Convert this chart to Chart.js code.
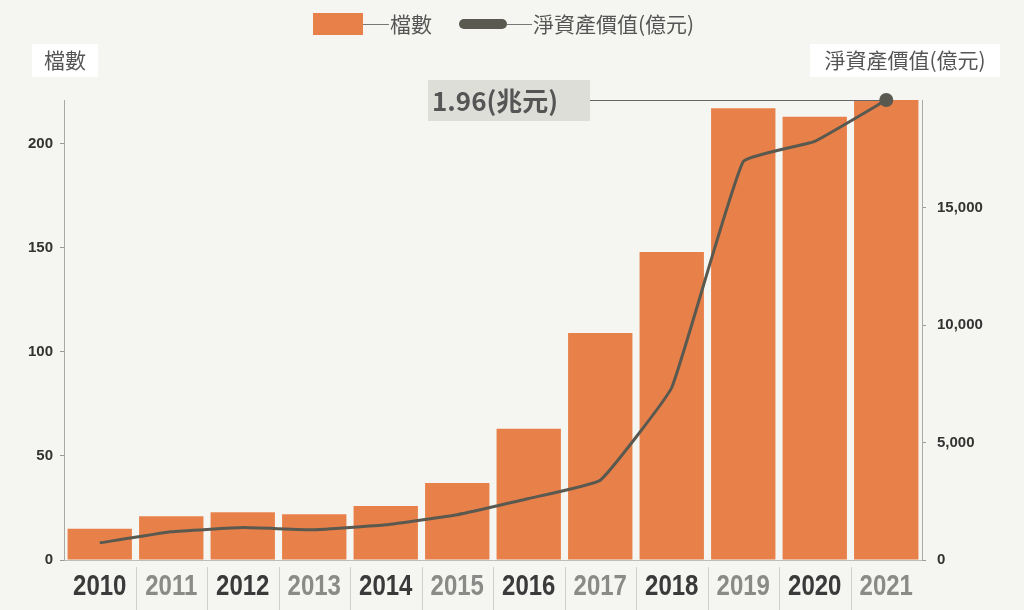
<!DOCTYPE html>
<html>
<head>
<meta charset="utf-8">
<script src="https://cdn.jsdelivr.net/npm/chart.js@4"></script>
<style>
  html, body { margin: 0; padding: 0; background: #f5f5f1; }
  #wrap { width: 1024px; height: 610px; position: relative; }
</style>
</head>
<body>
<div id="wrap"><canvas id="chart" width="1024" height="610"></canvas></div>
<script>
// data
const years = ['2010', '2011', '2012', '2013', '2014', '2015', '2016', '2017', '2018', '2019', '2020', '2021'];
const fundCounts = [15, 21, 23, 22, 26, 37, 63, 109, 148, 217, 213, 221];
const netAssets = [730, 1200, 1380, 1290, 1500, 1930, 2620, 3400, 7350, 16980, 17840, 19600];
const countTicks = [0, 50, 100, 150, 200];
const assetTicks = [0, 5000, 10000, 15000];

const BAR = '#e8804a';
const LINE = '#5a5950';

// year labels (condensed), legend, axis titles, separators and the 1.96 callout
const decorPlugin = {
    id: 'decor',
    afterDraw(chart) {
        const ctx = chart.ctx;
        const x = chart.scales.x;
        const y2 = chart.scales.y2;
        ctx.save();

        // separators between year labels
        ctx.strokeStyle = '#cfcfcb';
        ctx.lineWidth = 1;
        for (let i = 1; i < years.length; i++) {
            const px = Math.round((x.getPixelForValue(i - 1) + x.getPixelForValue(i)) / 2) + 0.5;
            ctx.beginPath();
            ctx.moveTo(px, 567);
            ctx.lineTo(px, 610);
            ctx.stroke();
        }

        // year labels, squeezed horizontally like a narrow face
        ctx.font = 'bold 30px "Liberation Sans", Arial';
        ctx.textAlign = 'center';
        ctx.textBaseline = 'middle';
        years.forEach((yr, i) => {
            const cx = x.getPixelForValue(i);
            ctx.save();
            ctx.translate(cx, 587);
            ctx.scale(0.8, 1);
            ctx.fillStyle = i % 2 === 0 ? '#3a3a3a' : '#8a8a88';
            ctx.fillText(yr, 0, 0);
            ctx.restore();
        });

        // legend
        ctx.font = '21px "Noto Sans CJK TC"';
        ctx.textAlign = 'left';
        ctx.textBaseline = 'middle';
        ctx.fillStyle = BAR;
        ctx.fillRect(313, 13, 50, 22);
        ctx.strokeStyle = '#777';
        ctx.lineWidth = 1;
        ctx.beginPath(); ctx.moveTo(363, 24.5); ctx.lineTo(389, 24.5); ctx.stroke();
        ctx.fillStyle = '#555';
        ctx.fillText('檔數', 390, 24);
        ctx.strokeStyle = LINE;
        ctx.lineWidth = 10;
        ctx.lineCap = 'round';
        ctx.beginPath(); ctx.moveTo(464, 24); ctx.lineTo(502, 24); ctx.stroke();
        ctx.lineCap = 'butt';
        ctx.strokeStyle = '#777';
        ctx.lineWidth = 1;
        ctx.beginPath(); ctx.moveTo(507, 24.5); ctx.lineTo(532, 24.5); ctx.stroke();
        ctx.fillText('淨資產價值(億元)', 533, 24);

        // axis titles in white boxes
        ctx.fillStyle = '#ffffff';
        ctx.fillRect(32, 44, 66, 33);
        ctx.fillRect(810, 44, 190, 33);
        ctx.fillStyle = '#555';
        ctx.textAlign = 'center';
        ctx.fillText('檔數', 65, 60);
        ctx.fillText('淨資產價值(億元)', 905, 60);

        // callout for the last point
        const last = netAssets.length - 1;
        const lx = x.getPixelForValue(last);
        const ly = y2.getPixelForValue(netAssets[last]);
        ctx.strokeStyle = '#666';
        ctx.lineWidth = 1;
        ctx.beginPath(); ctx.moveTo(590, Math.round(ly) + 0.5); ctx.lineTo(lx, Math.round(ly) + 0.5); ctx.stroke();
        ctx.fillStyle = '#deded9';
        ctx.fillRect(428, 80, 162, 41);
        ctx.fillStyle = '#555';
        ctx.textAlign = 'left';
        ctx.font = 'bold 26px "Noto Sans CJK TC"';
        ctx.fillText('1.96(兆元)', 432, 101);
        ctx.beginPath();
        ctx.arc(lx, ly, 7, 0, Math.PI * 2);
        ctx.fillStyle = LINE;
        ctx.fill();

        ctx.restore();
    }
};

new Chart(document.getElementById('chart'), {
    data: {
        labels: years,
        datasets: [
            {
                type: 'line',
                label: '淨資產價值(億元)',
                data: netAssets,
                yAxisID: 'y2',
                borderColor: LINE,
                borderWidth: 3,
                pointRadius: 0,
                tension: 0.1,
                order: 0
            },
            {
                type: 'bar',
                label: '檔數',
                data: fundCounts,
                yAxisID: 'y',
                backgroundColor: BAR,
                barPercentage: 0.9,
                categoryPercentage: 1,
                order: 1
            }
        ]
    },
    options: {
        responsive: false,
        animation: false,
        layout: { padding: { top: 100, left: 0, right: 0, bottom: 0 } },
        plugins: { legend: { display: false }, tooltip: { enabled: false } },
        scales: {
            x: {
                grid: { display: false },
                border: { color: '#bdbdb8' },
                afterFit: (s) => { s.height = 50; },
                ticks: { display: false }
            },
            y: {
                position: 'left',
                min: 0,
                max: 221,
                afterBuildTicks: (axis) => { axis.ticks = countTicks.map(v => ({ value: v })); },
                afterFit: (s) => { s.width = 64; },
                grid: { drawOnChartArea: false, tickLength: 4, color: '#9a9a9a' },
                border: { color: '#a9a9a5' },
                ticks: {
                    padding: 7,
                    color: '#333',
                    font: { family: '"Liberation Sans", Arial', size: 15, weight: 'bold' }
                }
            },
            y2: {
                position: 'right',
                min: 0,
                max: 19600,
                afterBuildTicks: (axis) => { axis.ticks = assetTicks.map(v => ({ value: v })); },
                afterFit: (s) => { s.width = 102; },
                grid: { drawOnChartArea: false, tickLength: 4, color: '#9a9a9a' },
                border: { color: '#a9a9a5' },
                ticks: {
                    padding: 11,
                    color: '#333',
                    font: { family: '"Liberation Sans", Arial', size: 15, weight: 'bold' },
                    callback: (v) => v.toLocaleString('en-US')
                }
            }
        }
    },
    plugins: [decorPlugin]
});
</script>
</body>
</html>
